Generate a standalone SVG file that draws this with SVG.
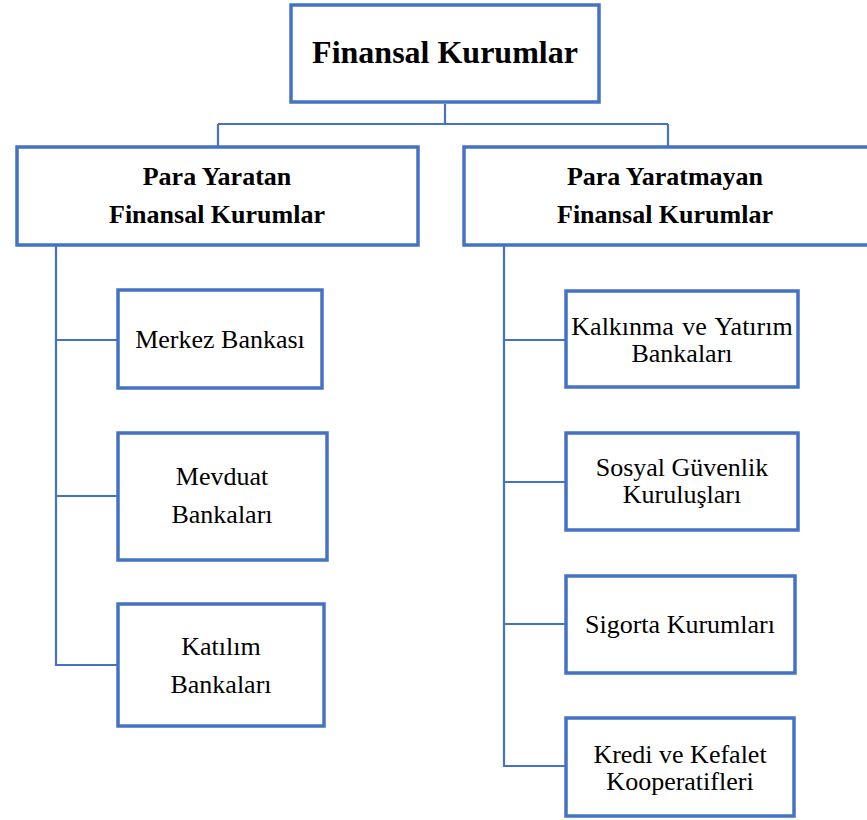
<svg xmlns="http://www.w3.org/2000/svg" width="867" height="820" viewBox="0 0 867 820">
<style>
.box{fill:#fff;stroke:#4472C4;stroke-width:3.5}
.con{fill:none;stroke:#4472C4;stroke-width:2.2}
text{fill:#000;text-anchor:middle}
.t{font-size:32px;font-weight:bold}
.h{font-size:26px;font-weight:bold}
.n{font-size:26px}
</style>
<rect width="867" height="820" fill="#fff"/>
<g id="connectors">
<path class="con" d="M445 104V124M218 124H668M218 124V146M668 124V146"/>
<path class="con" d="M56 246V665H117M56 340H117M56 496H117"/>
<path class="con" d="M504 246V766H565M504 340H565M504 482H565M504 624H565"/>
</g>
<g font-family="Liberation Serif, DejaVu Serif, serif">
<g id="root"><rect class="box" x="291" y="5" width="308" height="97"/><text class="t" x="445" y="63">Finansal Kurumlar</text></g>
<g id="para-yaratan"><rect class="box" x="17" y="147" width="401" height="98"/><text class="h" x="217" y="185">Para Yaratan</text><text class="h" x="217" y="223">Finansal Kurumlar</text></g>
<g id="para-yaratmayan"><rect class="box" x="464" y="147" width="410" height="98"/><text class="h" x="665" y="185">Para Yaratmayan</text><text class="h" x="665" y="223">Finansal Kurumlar</text></g>
<g id="merkez"><rect class="box" x="118" y="290" width="204" height="98"/><text class="n" x="220" y="348">Merkez Bankası</text></g>
<g id="mevduat"><rect class="box" x="118" y="433" width="209" height="127"/><text class="n" x="222" y="485">Mevduat</text><text class="n" x="222" y="523">Bankaları</text></g>
<g id="katilim"><rect class="box" x="118" y="604" width="206" height="122"/><text class="n" x="221" y="655">Katılım</text><text class="n" x="221" y="693">Bankaları</text></g>
<g id="kalkinma"><rect class="box" x="566" y="291" width="232" height="96"/><text class="n" x="682" y="335" word-spacing="2">Kalkınma ve Yatırım</text><text class="n" x="682" y="362">Bankaları</text></g>
<g id="sosyal"><rect class="box" x="566" y="433" width="232" height="97"/><text class="n" x="682" y="476">Sosyal Güvenlik</text><text class="n" x="682" y="503">Kuruluşları</text></g>
<g id="sigorta"><rect class="box" x="566" y="576" width="229" height="97"/><text class="n" x="680" y="633">Sigorta Kurumları</text></g>
<g id="kredi"><rect class="box" x="566" y="718" width="228" height="98"/><text class="n" x="680" y="763">Kredi ve Kefalet</text><text class="n" x="680" y="790">Kooperatifleri</text></g>
</g>
</svg>
